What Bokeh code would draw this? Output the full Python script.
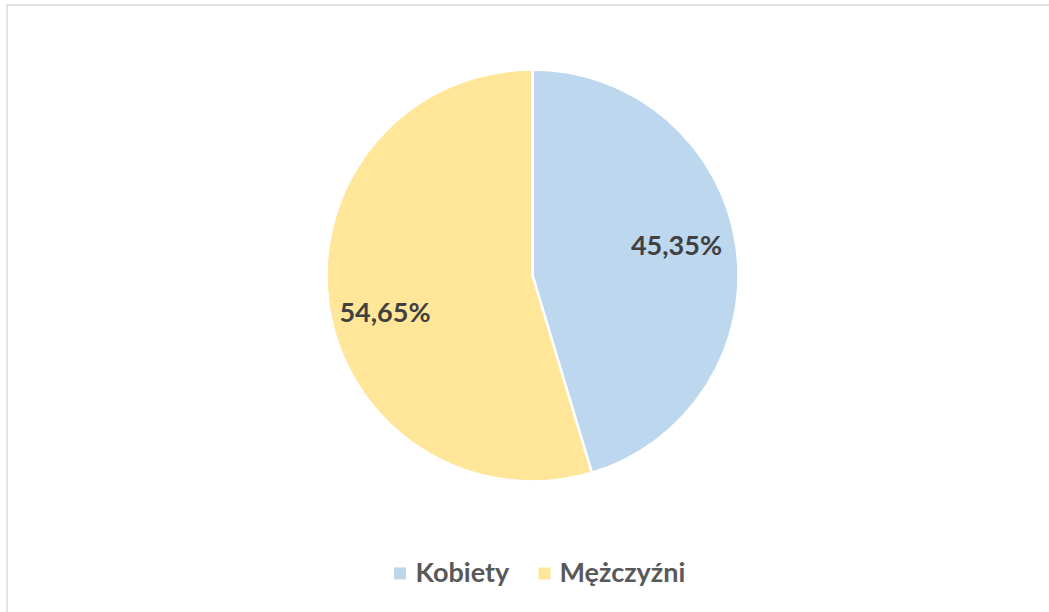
import numpy as np
from bokeh.plotting import figure
from bokeh.models import Range1d, ColumnDataSource
from bokeh.core.properties import value
from bokeh.embed import file_html
from bokeh.resources import INLINE

# ---- data ----
categories = ["Kobiety", "Mężczyźni"]
shares = [45.35, 54.65]
labels = ["45,35%", "54,65%"]
colors = ["#BDD7EE", "#FFE699"]

W, H = 1049, 612
p = figure(width=W, height=H, output_backend="svg", toolbar_location=None,
           x_range=Range1d(0, W), y_range=Range1d(0, H), min_border=0)
p.xaxis.visible = False
p.yaxis.visible = False
p.grid.visible = False
p.outline_line_color = None
p.background_fill_color = "white"
p.border_fill_color = "white"

def px(X, Y):
    return X, H - Y

# frame border (top + left visible)
bx0, by0 = px(6.5, 4.5)
p.line([bx0, bx0, W], [0, by0, by0], line_color="#d9d9d9", line_width=1.5)

# pie
cx, cy = px(532, 275)
R = 206
frac = np.array(shares) / sum(shares)
cum = np.concatenate([[0], np.cumsum(frac)])
start = np.pi / 2 - cum[:-1] * 2 * np.pi
end = np.pi / 2 - cum[1:] * 2 * np.pi
src = ColumnDataSource(dict(start=start, end=end, color=colors, cat=categories))
p.wedge(x=cx, y=cy, radius=R, radius_units="screen", start_angle="start", end_angle="end",
        direction="clock", fill_color="color", line_color="white", line_width=2.5, source=src)

# data labels
lab_pos = [px(676, 244), px(384.5, 310.5)]
p.text(x=[a for a, b in lab_pos], y=[b for a, b in lab_pos], text=labels,
       text_font=value("Lato"), text_font_style="bold", text_font_size="27px",
       text_color="#404040", text_align="center", text_baseline="middle")

# legend
sq = [px(399.5, 573), px(544, 573)]
p.rect(x=[a for a, b in sq], y=[b for a, b in sq], width=12, height=12,
       width_units="screen", height_units="screen", fill_color=colors, line_color=None)
lt = [px(415, 571), px(559, 571)]
p.text(x=[a for a, b in lt], y=[b for a, b in lt], text=categories,
       text_font=value("Lato"), text_font_style="bold", text_font_size="27px",
       text_color="#595959", text_align="left", text_baseline="middle")

open("out.html", "w").write(file_html(p, INLINE))
